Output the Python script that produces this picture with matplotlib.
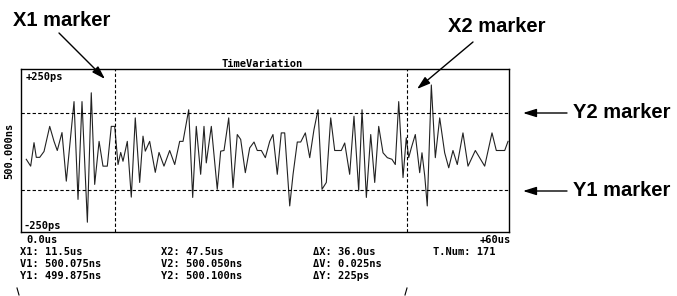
import numpy as np
import matplotlib
matplotlib.use('Agg')
import matplotlib.pyplot as plt

# waveform vertices: time (us) vs variation from 500.000ns (ps)
time_us = [0.65, 1.19, 1.60, 1.88, 2.30, 2.83, 3.53, 4.06, 4.46, 5.04, 5.57, 6.52, 7.01, 7.50,
           8.16, 8.64, 9.06, 9.60, 10.08, 10.61, 11.10, 11.52, 11.93, 12.26, 12.54, 13.07, 13.56,
           14.05, 14.59, 15.00, 15.28, 15.82, 16.51, 16.97, 17.58, 18.28, 18.90, 19.51, 19.92,
           20.62, 21.11, 21.55, 22.09, 22.50, 22.78, 23.40, 24.13, 24.55, 24.96, 25.54, 26.07,
           26.59, 27.01, 27.58, 28.12, 28.65, 29.05, 29.55, 30.04, 30.58, 30.98, 31.51, 32.00,
           32.42, 33.04, 33.45, 33.97, 34.39, 34.96, 35.50, 36.02, 36.52, 37.01, 37.54, 38.08,
           38.57, 39.38, 39.80, 40.41, 40.94, 41.52, 41.93, 42.46, 43.00, 43.49, 43.98, 44.51,
           45.04, 45.61, 46.02, 46.44, 46.97, 47.37, 47.67, 47.99, 48.48, 49.02, 49.30, 49.64,
           49.95, 50.45, 50.94, 51.48, 52.09, 52.59, 53.11, 53.64, 54.34, 54.96, 55.86, 57.01,
           57.91, 58.44, 59.47, 59.88]
var_ps = [-27, -48, 24, -21, -21, -3, 74, 28, 0, 55, -94, 150, -150, 150,
          -220, 177, -104, 28, -48, -48, 74, 74, -43, -6, -33, 28, -143,
          100, -98, 44, -2, 28, -67, -6, -48, 0, -43, 28, 28,
          125, -144, 74, -73, 74, -38, 74, -119, -2, 0, 100, -114,
          49, 34, -68, 8, 26, 0, 0, -22, 28, 49, -73, 54,
          54, -170, -73, 26, 26, 54, -22, 64, 125, -119, -98, 100,
          0, 0, 23, -73, 105, -124, 125, -144, 49, -98, 74, -7,
          -22, -27, -43, 150, -83, 39, -22, 8, 49, -68, -7, -78,
          -170, 201, -22, 100, -7, -53, 0, -43, 54, -48, 0, -48,
          54, 0, 0, 28]

x_markers = [11.5, 47.5]   # X1, X2 (us)
y_markers = [-120, 115]    # Y1, Y2 (ps)

info_cols = [
    ['X1: 11.5us', 'V1: 500.075ns', 'Y1: 499.875ns'],
    ['X2: 47.5us', 'V2: 500.050ns', 'Y2: 500.100ns'],
    ['\u0394X: 36.0us', '\u0394V: 0.025ns', '\u0394Y: 225ps'],
    ['T.Num: 171'],
]
info_x = [20, 161, 313, 433]

W, H = 677, 296
fig = plt.figure(figsize=(W / 100, H / 100), dpi=100)
ax = fig.add_axes([21 / W, 1 - 232 / H, (509 - 21) / W, (232 - 69) / H])

ax.plot(time_us, var_ps, color='#222222', lw=0.8)
for xm in x_markers:
    ax.axvline(xm, color='black', lw=0.8, ls=(0, (3, 2)))
for ym in y_markers:
    ax.axhline(ym, color='black', lw=0.8, ls=(0, (3, 2)))

ax.set_xlim(0, 60)
ax.set_ylim(-250, 250)
ax.set_xticks([])
ax.set_yticks([])
for s in ax.spines.values():
    s.set_linewidth(1.0)
    s.set_color('black')

mono = dict(family='DejaVu Sans Mono', fontweight='bold', fontsize=7.5, color='black')

def px(x, y):
    return x / W, 1 - y / H

fig.text(*px(262, 64), 'TimeVariation', ha='center', va='center', **mono)
fig.text(*px(26, 77), '+250ps', ha='left', va='center', **mono)
fig.text(*px(23, 226), '-250ps', ha='left', va='center', **mono)
fig.text(*px(26, 240), '0.0us', ha='left', va='center', **mono)
fig.text(*px(511, 240), '+60us', ha='right', va='center', **mono)
fig.text(*px(9, 151), '500.000ns', ha='center', va='center', rotation=90, **mono)

row_y = [252, 264, 276]
for cx, col in zip(info_x, info_cols):
    for ry, t in zip(row_y, col):
        fig.text(*px(cx, ry), t, ha='left', va='center', **mono)

big = dict(family='Liberation Sans', fontweight='bold', fontsize=14.5, color='black')
fig.text(*px(13, 20), 'X1 marker', ha='left', va='center', **big)
fig.text(*px(448, 27), 'X2 marker', ha='left', va='center', **big)
fig.text(*px(573, 113), 'Y2 marker', ha='left', va='center', **big)
fig.text(*px(573, 191), 'Y1 marker', ha='left', va='center', **big)

arrows = [((59, 33), (105, 79)), ((473, 42), (417, 89)),
          ((567, 113), (523, 113)), ((567, 191), (523, 191))]
for (x0, y0), (x1, y1) in arrows:
    ax.annotate('', xy=px(x1, y1), xytext=px(x0, y0), xycoords='figure fraction',
                textcoords='figure fraction', annotation_clip=False,
                arrowprops=dict(arrowstyle='-|>,head_length=0.8,head_width=0.25',
                                color='black', lw=1.0, mutation_scale=10,
                                shrinkA=0, shrinkB=0))

# cut-off callout stubs at the bottom edge
for (x0, y0), (x1, y1) in [((17, 288), (19, 295)), ((407, 288), (405, 295))]:
    fig.add_artist(plt.Line2D([x0 / W, x1 / W], [1 - y0 / H, 1 - y1 / H],
                              color='black', lw=0.8))

fig.savefig('out.png', dpi=100)
